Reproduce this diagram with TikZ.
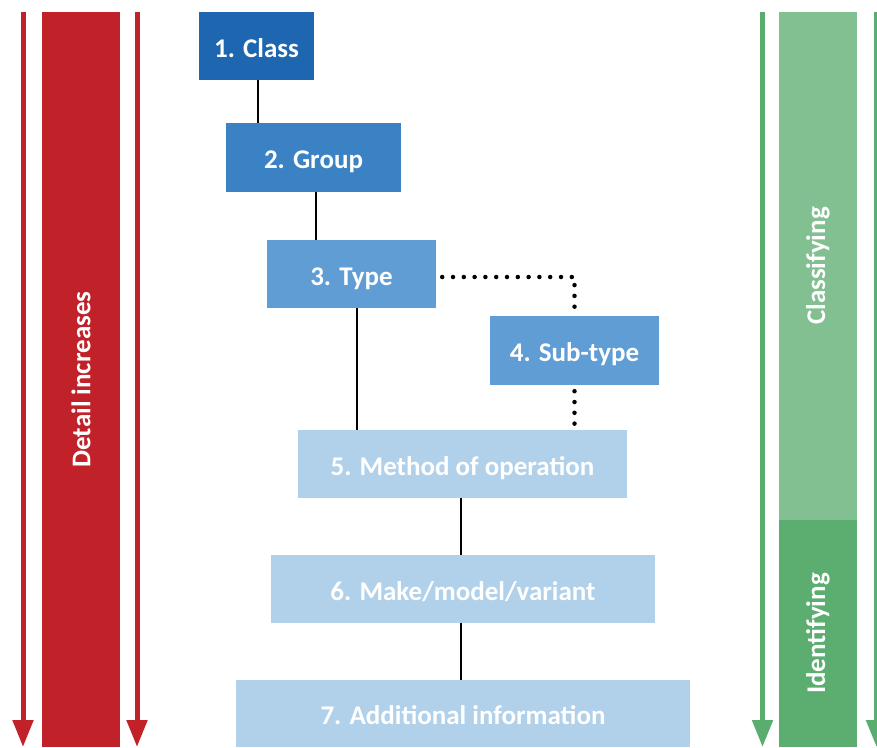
\documentclass[tikz,border=0pt]{standalone}
\usepackage{fontspec}
\setmainfont{Carlito}
\usepackage{tikz}
\usepackage{xcolor}
\usetikzlibrary{arrows.meta}
\definecolor{detailred}{HTML}{C1222A}
\definecolor{classblue}{HTML}{1E66B0}
\definecolor{groupblue}{HTML}{3A82C4}
\definecolor{typeblue}{HTML}{5F9DD4}
\definecolor{paleblue}{HTML}{B1D1EB}
\definecolor{arrowgreen}{HTML}{5BAD6F}
\definecolor{classgreen}{HTML}{82BF91}
\definecolor{identgreen}{HTML}{5CAE70}
\newcommand{\lbl}{\fontsize{27}{31}\selectfont\bfseries}
\tikzstyle{levelbox} = [
    rectangle,
    inner sep=0pt,
    text=white,
    font=\lbl,
    text height=22pt,
    text depth=0pt
    ]
\tikzstyle{sidebar} = [
    rectangle,
    inner sep=0pt,
    text=white,
    font=\lbl,
    minimum width=78pt
    ]
\tikzstyle{redarrow} = [
    draw=detailred,
    line width=5pt,
    -{Triangle[width=20pt,length=27pt]}
    ]
\tikzstyle{greenarrow} = [
    draw=arrowgreen,
    line width=5pt,
    -{Triangle[width=20pt,length=27pt]}
    ]
\tikzstyle{link} = [
    draw=black,
    line width=2.5pt
    ]
\tikzstyle{dotlink} = [
    draw=black,
    line width=4.5pt,
    line cap=round,
    dash pattern=on 0pt off 10.8pt
    ]

\begin{document}
\begin{tikzpicture}[x=1pt,y=-1pt]
\useasboundingbox (0,0) rectangle (877,747);

% side bars
\node[sidebar, fill=detailred, minimum height=735pt] (detail) at (81,379.5)
    {\rotatebox{90}{Detail increases}};
\node[sidebar, fill=classgreen, minimum height=508pt] (classify) at (818,266)
    {\rotatebox{90}{Classifying}};
\node[sidebar, fill=identgreen, minimum height=227pt] (identify) at (818,633.5)
    {\rotatebox{90}{Identifying}};

\coordinate (redA top) at (23,12);
\coordinate (redA end) at (23,747);
\coordinate (redB top) at (137,12);
\coordinate (redB end) at (137,747);
\coordinate (greenA top) at (762.5,12);
\coordinate (greenA end) at (762.5,747);
\coordinate (greenB top) at (876.5,12);
\coordinate (greenB end) at (876.5,747);
\draw[redarrow] (redA top) -- (redA end);
\draw[redarrow] (redB top) -- (redB end);
\draw[greenarrow] (greenA top) -- (greenA end);
\draw[greenarrow] (greenB top) -- (greenB end);

% levels
\node[levelbox, fill=classblue, minimum width=115pt, minimum height=68pt] (class) at (256.5,46) {1. Class};
\node[levelbox, fill=groupblue, minimum width=175pt, minimum height=69pt] (group) at (313.5,157.5) {2. Group};
\node[levelbox, fill=typeblue, minimum width=169pt, minimum height=68pt] (type) at (351.5,274) {3. Type};
\node[levelbox, fill=typeblue, minimum width=169pt, minimum height=69pt] (subtype) at (574.5,350.5) {4. Sub-type};
\node[levelbox, fill=paleblue, minimum width=329pt, minimum height=68pt] (method) at (462.5,464) {5. Method of operation};
\node[levelbox, fill=paleblue, minimum width=384pt, minimum height=68pt] (make) at (463,589) {6. Make/model/variant};
\node[levelbox, fill=paleblue, minimum width=454pt, minimum height=67pt] (extra) at (463,713.5) {7. Additional information};

% connectors
\draw[link] ([xshift=1.5pt]class.south) -- ([xshift=1.5pt]class.south |- group.north);
\draw[link] ([xshift=2.5pt]group.south) -- ([xshift=2.5pt]group.south |- type.north);
\draw[link] ([xshift=5.5pt]type.south) -- ([xshift=5.5pt]type.south |- method.north);
\draw[link] ([xshift=-1.5pt]method.south) -- ([xshift=-1.5pt]method.south |- make.north);
\draw[link] ([xshift=-2pt]make.south) -- ([xshift=-2pt]make.south |- extra.north);
\draw[dotlink] ([shift={(6pt,-3pt)}]type.east) -| (subtype.north);
\draw[dotlink] ([yshift=-6pt]subtype.south) -- (subtype.south |- method.north);
\end{tikzpicture}
\end{document}
